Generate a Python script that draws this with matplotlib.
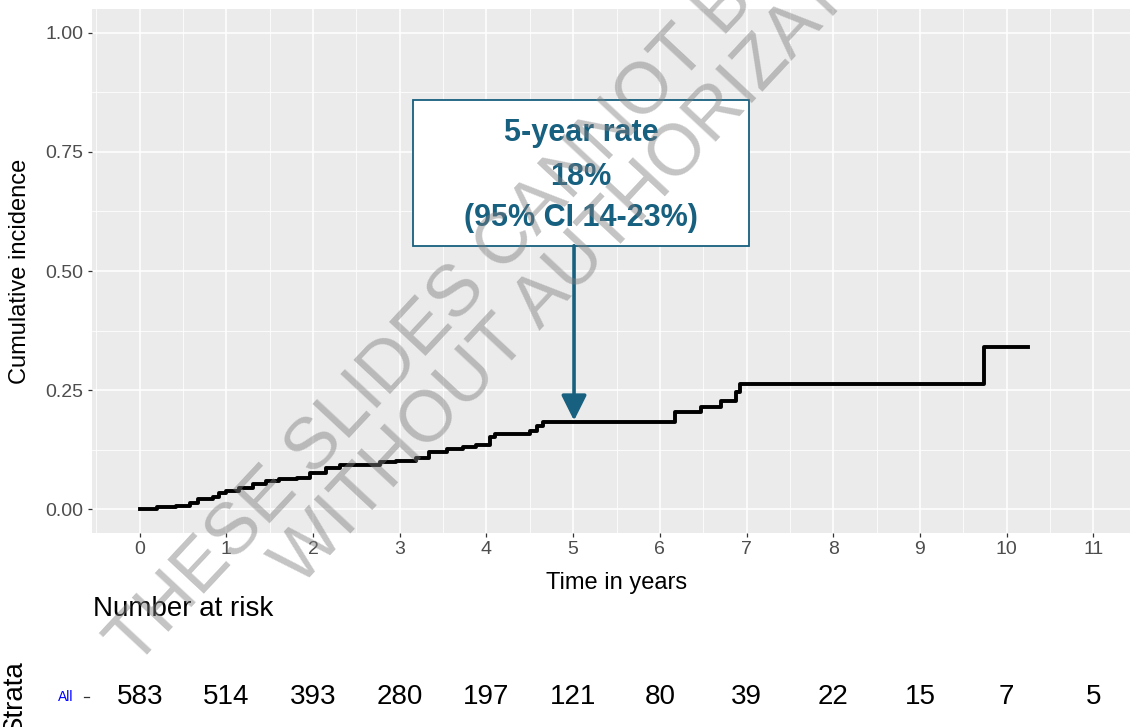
import matplotlib
matplotlib.use('Agg')
import matplotlib.pyplot as plt
from matplotlib.patches import Rectangle
from matplotlib.transforms import blended_transform_factory

plt.rcParams['font.family'] = ['Liberation Sans', 'DejaVu Sans']

# cumulative incidence steps (time in years, value after the step)
step_times = [0, 0.20, 0.42, 0.58, 0.67, 0.85, 0.92, 1.00, 1.15, 1.31, 1.46, 1.61,
              1.81, 1.96, 2.15, 2.31, 2.77, 2.96, 3.19, 3.34, 3.54, 3.73, 3.88,
              4.04, 4.10, 4.50, 4.58, 4.65, 6.17, 6.47, 6.70, 6.88, 6.93, 9.74, 10.25]
step_values = [0, 0.004, 0.007, 0.014, 0.021, 0.025, 0.034, 0.039, 0.045, 0.052, 0.059, 0.063,
               0.066, 0.077, 0.087, 0.092, 0.098, 0.102, 0.108, 0.119, 0.126, 0.131, 0.134,
               0.151, 0.157, 0.164, 0.175, 0.184, 0.204, 0.215, 0.227, 0.245, 0.262, 0.341, 0.341]

risk_times = list(range(12))
n_at_risk = [583, 514, 393, 280, 197, 121, 80, 39, 22, 15, 7, 5]

y_ticks = [0.00, 0.25, 0.50, 0.75, 1.00]
y_ticklabels = ['0.00', '0.25', '0.50', '0.75', '1.00']

box_lines = ['5-year rate', '18%', '(95% CI 14-23%)']
teal = '#17607F'

W, H = 1130, 727
fig = plt.figure(figsize=(W / 100, H / 100), dpi=100)
ax = fig.add_axes([92 / W, 1 - 533 / H, (1141 - 92) / W, (533 - 9) / H])
ax.set_facecolor('#EBEBEB')
for s in ax.spines.values():
    s.set_visible(False)

ax.set_xlim(-0.55, 11.55)
ax.set_ylim(-0.05, 1.05)
ax.set_xticks(risk_times)
ax.set_xticks([x + 0.5 for x in range(-1, 12)], minor=True)
ax.set_yticks(y_ticks)
ax.set_yticklabels(y_ticklabels)
ax.set_yticks([0.125, 0.375, 0.625, 0.875], minor=True)
ax.grid(which='major', color='white', lw=1.1)
ax.grid(which='minor', color='white', lw=0.55)
ax.set_axisbelow(True)
ax.tick_params(which='major', length=3, width=0.9, color='#333333',
               labelsize=14, labelcolor='#4D4D4D', pad=3)
ax.tick_params(which='minor', length=0)

ax.step(step_times, step_values, where='post', color='black', lw=2.8, zorder=3)

# annotation box + arrow
ax.add_patch(Rectangle((3.15, 0.553), 7.03 - 3.15, 0.860 - 0.553, facecolor='white',
                       edgecolor=teal, lw=1.3, zorder=4))
for txt, yv in zip(box_lines, [0.790, 0.698, 0.612]):
    ax.text(5.09, yv, txt, ha='center', va='center', fontsize=22, fontweight='bold',
            color=teal, zorder=5)
ax.annotate('', xy=(5.01, 0.186), xytext=(5.01, 0.553),
            arrowprops=dict(arrowstyle='-|>,head_length=0.7,head_width=0.35', color=teal,
                            lw=2.6, shrinkA=0, shrinkB=0, mutation_scale=22), zorder=5)

fig.text(20 / W, 1 - 271 / H, 'Cumulative incidence', rotation=90, ha='center', va='center',
         fontsize=17)
fig.text(617 / W, 1 - 583 / H, 'Time in years', ha='center', va='center', fontsize=17)

# risk table
fig.text(93 / W, 1 - 609 / H, 'Number at risk', ha='left', va='center', fontsize=20)
tr = blended_transform_factory(ax.transData, fig.transFigure)
for t, n in zip(risk_times, n_at_risk):
    fig.text(t, 1 - 697 / H, str(n), transform=tr, ha='center', va='center', fontsize=20)
fig.text(73 / W, 1 - 697 / H, 'All', ha='right', va='center', fontsize=10, color='blue')
fig.add_artist(plt.Line2D([84 / W, 89 / W], [1 - 697 / H, 1 - 697 / H], color='#333333', lw=0.9))
fig.text(15 / W, 1 - 697 / H, 'Strata', rotation=90, ha='center', va='center', fontsize=20)

# watermark
wm = dict(rotation=47, rotation_mode='anchor', ha='left', va='baseline', fontsize=52,
          color=(0.49, 0.49, 0.49), alpha=0.45, zorder=10)
fig.text(135 / W, 1 - 668 / H, 'THESE SLIDES CANNOT BE USED', **wm)
fig.text(300 / W, 1 - 588 / H, 'WITHOUT AUTHORIZATION', **wm)

fig.savefig('out.png', dpi=100)
